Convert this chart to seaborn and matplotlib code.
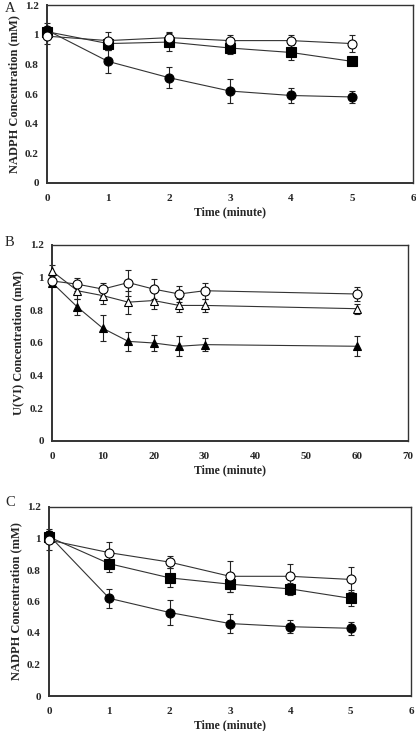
import numpy as np
import pandas as pd
import matplotlib
matplotlib.use("Agg")
import matplotlib.pyplot as plt
import seaborn as sns

# datos
t_nadph = [0, 1, 2, 3, 4, 5]
t_uvi = [0, 5, 10, 15, 20, 25, 30, 60]

# Panel A
a_circ_lleno = [1.03, 0.82, 0.71, 0.62, 0.59, 0.58]
a_circ_lleno_err = [0.05, 0.08, 0.07, 0.08, 0.05, 0.04]
a_cuadrado = [1.02, 0.94, 0.95, 0.91, 0.88, 0.82]
a_cuadrado_err = [0.03, 0.04, 0.06, 0.04, 0.05, 0.02]
a_circ_vacio = [0.99, 0.96, 0.98, 0.96, 0.96, 0.94]
a_circ_vacio_err = [0.05, 0.06, 0.04, 0.04, 0.04, 0.06]

# Panel B
b_circ_vacio = [0.98, 0.96, 0.93, 0.97, 0.93, 0.90, 0.92, 0.90]
b_circ_vacio_err = [0.03, 0.04, 0.04, 0.08, 0.06, 0.05, 0.05, 0.04]
b_tri_vacio = [1.04, 0.92, 0.89, 0.85, 0.86, 0.83, 0.83, 0.81]
b_tri_vacio_err = [0.04, 0.05, 0.05, 0.07, 0.05, 0.04, 0.04, 0.03]
b_tri_lleno = [0.97, 0.82, 0.69, 0.61, 0.60, 0.58, 0.59, 0.58]
b_tri_lleno_err = [0.02, 0.05, 0.08, 0.06, 0.05, 0.06, 0.04, 0.06]

# Panel C
c_circ_lleno = [1.02, 0.62, 0.53, 0.46, 0.44, 0.43]
c_circ_lleno_err = [0.04, 0.06, 0.08, 0.06, 0.04, 0.04]
c_cuadrado = [1.01, 0.84, 0.75, 0.71, 0.68, 0.62]
c_cuadrado_err = [0.04, 0.05, 0.06, 0.05, 0.04, 0.05]
c_circ_vacio = [0.99, 0.91, 0.85, 0.76, 0.76, 0.74]
c_circ_vacio_err = [0.06, 0.07, 0.04, 0.10, 0.08, 0.08]

sns.set_style("white")
plt.rcParams['font.family'] = ['Liberation Serif', 'DejaVu Serif']
plt.rcParams['font.weight'] = 'bold'

fig = plt.figure(figsize=(4.16, 7.31), dpi=100)
ax_a = fig.add_axes([47/416, 1-183/731, 366/416, 178/731])
ax_b = fig.add_axes([52/416, 1-441/731, 356/416, 196/731])
ax_c = fig.add_axes([49/416, 1-696/731, 362/416, 189/731])

def serie(ax, x, y, err, marker, lleno):
    df = pd.DataFrame({"x": x, "y": y})
    ax.errorbar(x, y, yerr=err, fmt='none', ecolor='#222222', elinewidth=0.8,
                capsize=2, capthick=0.8, zorder=2, clip_on=False)
    sns.lineplot(data=df, x="x", y="y", ax=ax, color='#333333', linewidth=0.8,
                 marker=marker, markersize=6.5 if marker != '^' else 6,
                 markerfacecolor='black' if lleno else 'white',
                 markeredgecolor='black', markeredgewidth=0.8,
                 zorder=3, clip_on=False)

def formato(ax, xmax, xstep, ylabel, letra, ylab_pad):
    ax.set_xlim(0, xmax)
    ax.set_ylim(0, 1.2)
    ax.set_xticks(np.arange(0, xmax + 1, xstep))
    ax.set_yticks([0, 0.2, 0.4, 0.6, 0.8, 1.0, 1.2])
    ax.set_yticklabels(["0", "0.2", "0.4", "0.6", "0.8", "1", "1.2"])
    ax.tick_params(axis='y', labelsize=8, length=0, pad=6)
    ax.tick_params(axis='x', labelsize=8, length=0, pad=8)
    for lab in ax.get_xticklabels() + ax.get_yticklabels():
        lab.set_fontweight('bold')
    ax.set_xlabel("Time (minute)", fontsize=8.5, fontweight='bold', labelpad=2)
    ax.set_ylabel(ylabel, fontsize=9, fontweight='bold', labelpad=ylab_pad)
    for s in ax.spines.values():
        s.set_color('#333333')
        s.set_linewidth(1.0)
    ax.spines['left'].set_linewidth(1.4)
    ax.spines['bottom'].set_linewidth(1.4)
    ax.text(5/416, letra[1], letra[0], transform=fig.transFigure, fontsize=10.5,
            fontweight='normal', va='center', ha='left')

serie(ax_a, t_nadph, a_cuadrado, a_cuadrado_err, 's', True)
serie(ax_a, t_nadph, a_circ_lleno, a_circ_lleno_err, 'o', True)
serie(ax_a, t_nadph, a_circ_vacio, a_circ_vacio_err, 'o', False)
formato(ax_a, 6, 1, "NADPH Concentration (mM)", ("A", 1 - 8/731), 3)

serie(ax_b, t_uvi, b_tri_lleno, b_tri_lleno_err, '^', True)
serie(ax_b, t_uvi, b_tri_vacio, b_tri_vacio_err, '^', False)
serie(ax_b, t_uvi, b_circ_vacio, b_circ_vacio_err, 'o', False)
formato(ax_b, 70, 10, "U(VI) Concentration (mM)", ("B", 1 - 243/731), 4)

serie(ax_c, t_nadph, c_cuadrado, c_cuadrado_err, 's', True)
serie(ax_c, t_nadph, c_circ_lleno, c_circ_lleno_err, 'o', True)
serie(ax_c, t_nadph, c_circ_vacio, c_circ_vacio_err, 'o', False)
formato(ax_c, 6, 1, "NADPH Concentration (mM)", ("C", 1 - 503/731), 3)

fig.savefig("out.png", dpi=100)
